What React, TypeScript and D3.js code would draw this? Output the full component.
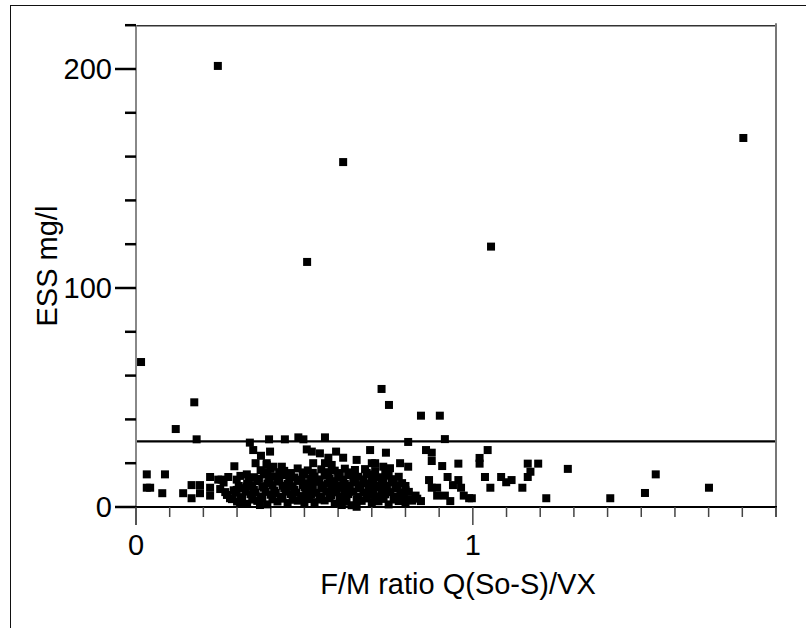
import React from 'react';
import * as d3 from 'd3';

// F/M ratio vs ESS
const highPoints: [number, number][] = [
  [0.243, 201.4], [0.615, 157.5], [1.803, 168.5], [0.508, 111.9], [1.054, 118.9],
  [0.015, 66.2], [0.173, 47.8], [0.118, 35.6], [0.180, 30.9], [0.729, 53.9],
  [0.751, 46.6], [0.846, 41.7], [0.902, 41.7],
];

const midPoints: [number, number][] = [
  [0.338, 29.4], [0.348, 26], [0.355, 20], [0.371, 23.4], [0.395, 30.9], [0.398, 25.3],
  [0.388, 20], [0.442, 30.9], [0.482, 31.8], [0.497, 30.9], [0.561, 31.8], [0.507, 26.3],
  [0.522, 25.3], [0.546, 24.5], [0.571, 22.5], [0.594, 25.3], [0.615, 22.5], [0.655, 21.5],
  [0.695, 26], [0.700, 20], [0.710, 20], [0.734, 18.4], [0.754, 17.7], [0.784, 20],
  [0.808, 18.4], [0.388, 19.2], [0.408, 18.4], [0.433, 18.4], [0.526, 20], [0.561, 20],
  [0.581, 19.2], [0.292, 18.6], [0.808, 29.7], [0.917, 31], [0.742, 24.8], [0.861, 26],
  [0.878, 24.8], [0.878, 21], [0.909, 18.7], [0.957, 19.8], [1.020, 22.4], [1.020, 19.8],
  [1.044, 26], [0.870, 12.3], [0.925, 13.7], [0.957, 12.3], [1.036, 13.7], [1.084, 13.7],
  [1.115, 12.3], [1.099, 11.3], [1.163, 19.8], [1.194, 19.8], [1.171, 16.1], [1.163, 13.7],
  [1.147, 8.8], [1.052, 8.8], [1.282, 17.4], [1.543, 14.9], [1.511, 6.4], [1.701, 8.8],
  [1.218, 4], [1.408, 4], [0.878, 8.8], [0.894, 8.8], [0.894, 5.2], [0.917, 5.2],
  [0.933, 2.7], [0.941, 10], [0.965, 8.8], [0.973, 5.2], [0.989, 4], [0.997, 4], [0.846, 2.7],
];

const lowLeftPoints: [number, number][] = [
  [0.032, 14.9], [0.086, 14.9], [0.032, 8.8], [0.042, 8.8], [0.078, 6.3], [0.140, 6.3],
  [0.165, 10], [0.165, 4], [0.190, 10], [0.190, 6.3], [0.220, 13.7], [0.220, 8.8],
  [0.220, 5.2], [0.244, 12.5], [0.254, 12.5], [0.274, 13.7], [0.279, 4], [0.299, 12.5],
  [0.299, 7.8], [0.309, 1.7], [0.329, 14.9], [0.329, 9.3], [0.368, 0.9], [0.611, 0.9],
  [0.655, 0.1],
];

// dense mass between F/M 0.25 and 0.84, ESS below ~18
const clusterPoints: [number, number][] = [
  [0.30, 2.5], [0.33, 1.5], [0.36, 2.8], [0.39, 1.2], [0.42, 2.5], [0.45, 1.8], [0.48, 2.9],
  [0.50, 1.5], [0.53, 2.2], [0.56, 3], [0.59, 1.6], [0.62, 2.4], [0.64, 0.8], [0.67, 2.8],
  [0.70, 1.9], [0.72, 2.6], [0.75, 1.2], [0.78, 2.7], [0.80, 1.5], [0.82, 2.9],
  [0.27, 5.5], [0.31, 4.5], [0.34, 5.8], [0.37, 4.8], [0.40, 5.6], [0.43, 4.6], [0.46, 5.9],
  [0.49, 5], [0.52, 5.7], [0.55, 4.7], [0.58, 5.4], [0.61, 4.9], [0.63, 5.9], [0.66, 4.6],
  [0.69, 5.5], [0.71, 4.9], [0.74, 5.8], [0.77, 4.6], [0.79, 5.6], [0.83, 5.2],
  [0.25, 8.2], [0.29, 7.6], [0.32, 8.6], [0.35, 7.8], [0.38, 8.8], [0.41, 7.5], [0.44, 8.5],
  [0.47, 7.9], [0.50, 8.9], [0.52, 7.7], [0.55, 8.4], [0.58, 7.6], [0.61, 8.7], [0.63, 7.8],
  [0.66, 8.5], [0.69, 7.7], [0.72, 8.9], [0.74, 7.9], [0.77, 8.4], [0.80, 7.6],
  [0.26, 11.2], [0.33, 10.6], [0.36, 11.8], [0.39, 10.8], [0.42, 11.6], [0.45, 10.5],
  [0.48, 11.9], [0.51, 10.9], [0.54, 11.5], [0.57, 10.7], [0.59, 11.8], [0.62, 10.6],
  [0.65, 11.4], [0.68, 10.8], [0.70, 11.9], [0.73, 10.5], [0.76, 11.3], [0.79, 10.9],
  [0.31, 14.2], [0.35, 13.6], [0.38, 14.8], [0.41, 13.8], [0.44, 14.5], [0.47, 13.5],
  [0.50, 14.7], [0.53, 13.9], [0.56, 14.4], [0.60, 13.7], [0.63, 14.6], [0.66, 13.8],
  [0.69, 14.9], [0.72, 13.6], [0.75, 14.3], [0.78, 13.8],
  [0.37, 16.8], [0.40, 17.4], [0.44, 16.5], [0.48, 17.6], [0.51, 16.7], [0.55, 17.2],
  [0.59, 16.6], [0.62, 17.5], [0.65, 16.9], [0.68, 17.3], [0.71, 16.4],
];

const clusterFillPoints: [number, number][] = [
  [0.285, 3.6], [0.315, 3.9], [0.345, 3.4], [0.375, 4], [0.405, 3.5], [0.435, 3.8], [0.465, 3.3],
  [0.495, 3.9], [0.515, 3.6], [0.545, 3.4], [0.575, 4], [0.605, 3.5], [0.625, 3.8], [0.655, 3.3],
  [0.685, 3.9], [0.715, 3.5], [0.735, 3.7], [0.765, 3.4], [0.795, 3.9], [0.815, 3.5], [0.835, 3.8],
  [0.265, 6.8], [0.295, 6.5], [0.325, 7], [0.355, 6.6], [0.385, 6.9], [0.415, 6.4], [0.445, 7],
  [0.475, 6.6], [0.505, 6.8], [0.535, 6.5], [0.565, 7], [0.595, 6.7], [0.62, 6.5], [0.645, 6.9],
  [0.675, 6.6], [0.705, 7], [0.73, 6.5], [0.755, 6.8], [0.785, 6.6], [0.81, 6.9],
  [0.305, 9.6], [0.345, 9.9], [0.375, 9.5], [0.405, 10], [0.435, 9.7], [0.465, 9.5], [0.495, 10],
  [0.525, 9.6], [0.555, 9.9], [0.585, 9.5], [0.605, 9.8], [0.635, 9.6], [0.665, 10],
  [0.695, 9.5], [0.715, 9.8], [0.745, 9.6], [0.775, 9.9], [0.80, 9.6],
  [0.335, 12.6], [0.365, 12.9], [0.395, 12.5], [0.425, 13], [0.455, 12.7], [0.49, 12.5],
  [0.52, 12.9], [0.545, 12.6], [0.575, 12.8], [0.615, 12.5], [0.645, 12.9], [0.675, 12.6],
  [0.705, 12.8], [0.735, 12.5], [0.765, 12.7],
  [0.39, 15.6], [0.425, 15.9], [0.46, 15.5], [0.495, 15.8], [0.525, 15.6], [0.57, 15.9],
  [0.605, 15.5], [0.64, 15.8], [0.685, 15.6], [0.74, 15.7],
];

const xTickValues = [0, 0.1, 0.2, 0.3, 0.4, 0.5, 0.6, 0.7, 0.8, 0.9, 1, 1.1, 1.2, 1.3, 1.4, 1.5, 1.6, 1.7, 1.8, 1.9];
const xTickLabels = [0, 1];
const yTickValues = [0, 20, 40, 60, 80, 100, 120, 140, 160, 180, 200, 220];
const yTickLabels = [0, 100, 200];
const essLimit = 30;

const W = 806;
const H = 628;
const plot = { left: 136, right: 776, top: 25.2, bottom: 507 };
const font = "'Liberation Sans', Arial, sans-serif";

export default function App() {
  const x = d3.scaleLinear().domain([0, 1.9]).range([plot.left, plot.right]);
  const y = d3.scaleLinear().domain([0, 220]).range([plot.bottom, plot.top]);
  const allPoints = [...clusterPoints, ...clusterFillPoints, ...lowLeftPoints, ...midPoints, ...highPoints];
  const sq = 8;

  return (
    <svg width={W} height={H} style={{ position: 'absolute', left: 0, top: 0, background: '#fff' }} fontFamily={font}>
      <rect x={10.5} y={5.5} width={830} height={660} fill="none" stroke="#111" strokeWidth={1} />

      {/* plot frame */}
      <line x1={x(0)} x2={x(1.9)} y1={y(220) + 0.5} y2={y(220) + 0.5} stroke="#333" strokeWidth={1.5} />
      <line x1={x(1.9)} x2={x(1.9)} y1={y(220) - 2} y2={y(0) + 10} stroke="#777" strokeWidth={2} />
      <line x1={x(0)} x2={x(0)} y1={y(220)} y2={y(0) + 18} stroke="#888" strokeWidth={2} />

      {/* y ticks */}
      {yTickValues.map(v => (
        <line key={'yt' + v} x1={x(0) - (yTickLabels.includes(v) ? 21 : 11)} x2={x(0)}
          y1={y(v)} y2={y(v)} stroke="#000" strokeWidth={2.5} />
      ))}
      {yTickLabels.map(v => (
        <text key={'yl' + v} x={x(0) - 24} y={y(v)} dy="0.36em" textAnchor="end" fontSize={29} fill="#000">{v}</text>
      ))}

      {/* x axis */}
      <line x1={x(0)} x2={x(1.9) + 1} y1={y(0)} y2={y(0)} stroke="#000" strokeWidth={2} />
      {xTickValues.map(v => (
        <line key={'xt' + v} x1={x(v)} x2={x(v)} y1={y(0)}
          y2={y(0) + (xTickLabels.includes(v) ? 18 : 10)} stroke="#444" strokeWidth={1.5} />
      ))}
      {xTickLabels.map(v => (
        <text key={'xl' + v} x={x(v)} y={555} textAnchor="middle" fontSize={29} fill="#000">{v}</text>
      ))}

      {/* limit line */}
      <line x1={x(0) + 1} x2={x(1.9) - 1} y1={y(essLimit)} y2={y(essLimit)} stroke="#000" strokeWidth={2.3} />

      {/* points */}
      {allPoints.map((d, i) => (
        <rect key={i} x={x(d[0]) - sq / 2} y={y(d[1]) - sq / 2} width={sq} height={sq} fill="#000" />
      ))}

      {/* axis titles */}
      <text x={(plot.left + plot.right) / 2 + 2} y={594} textAnchor="middle" fontSize={29} fill="#000">F/M ratio Q(So-S)/VX</text>
      <text transform={`translate(57, ${(plot.top + plot.bottom) / 2}) rotate(-90)`} textAnchor="middle" fontSize={29} fill="#000">ESS mg/l</text>
    </svg>
  );
}
